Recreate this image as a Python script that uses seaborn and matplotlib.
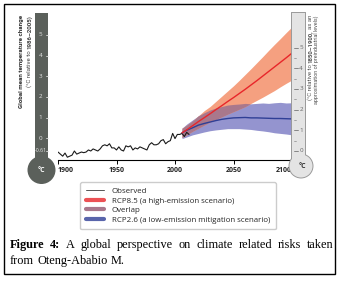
import matplotlib
matplotlib.use('Agg')
import matplotlib.pyplot as plt
import numpy as np
import seaborn as sns
from matplotlib.lines import Line2D
from matplotlib.patches import Rectangle, Circle
from matplotlib.transforms import blended_transform_factory

# observed global mean temperature, degC relative to 1850-1900 (right-hand scale)
obs_years = [1900, 1902, 1904, 1906, 1908, 1910, 1912, 1914, 1916, 1918,
             1920, 1922, 1924, 1926, 1928, 1930, 1932, 1934, 1936, 1938,
             1940, 1942, 1944, 1946, 1948, 1950, 1952, 1954, 1956, 1958,
             1960, 1962, 1964, 1966, 1968, 1970, 1972, 1974, 1976, 1978,
             1980, 1982, 1984, 1986, 1988, 1990, 1992, 1994, 1996, 1998,
             2000, 2002, 2004, 2006, 2008, 2010, 2012]
obs_temp = [-0.05, -0.15, -0.25, -0.10, -0.30, -0.25, -0.20, 0.00, -0.15, -0.10,
            -0.05, -0.08, -0.05, 0.05, 0.00, 0.10, 0.05, 0.00, 0.10, 0.25,
            0.30, 0.25, 0.35, 0.15, 0.15, 0.05, 0.20, 0.05, 0.00, 0.25,
            0.20, 0.25, 0.05, 0.15, 0.10, 0.20, 0.15, 0.10, 0.05, 0.30,
            0.40, 0.30, 0.30, 0.35, 0.50, 0.55, 0.35, 0.45, 0.50, 0.85,
            0.60, 0.80, 0.80, 0.85, 0.70, 0.90, 0.80]

# projections
proj_years = [2006, 2010, 2015, 2020, 2025, 2030, 2035, 2040, 2045, 2050,
              2055, 2060, 2065, 2070, 2075, 2080, 2085, 2090, 2095, 2100]
rcp85_mean = [0.88, 1.02, 1.22, 1.42, 1.61, 1.80, 2.00, 2.19, 2.39, 2.58,
              2.78, 2.98, 3.19, 3.40, 3.62, 3.84, 4.06, 4.28, 4.50, 4.73]
rcp85_high = [1.10, 1.25, 1.45, 1.70, 1.95, 2.15, 2.40, 2.65, 2.90, 3.15,
              3.42, 3.70, 3.98, 4.27, 4.56, 4.86, 5.15, 5.43, 5.72, 6.00]
rcp85_low = [0.65, 0.78, 0.95, 1.10, 1.25, 1.40, 1.52, 1.65, 1.78, 1.90,
             2.02, 2.14, 2.30, 2.45, 2.60, 2.76, 2.92, 3.10, 3.27, 3.43]
rcp26_mean = [0.88, 1.00, 1.12, 1.25, 1.33, 1.40, 1.47, 1.53, 1.57, 1.60,
              1.61, 1.62, 1.60, 1.60, 1.59, 1.58, 1.57, 1.57, 1.56, 1.55]
rcp26_high = [1.10, 1.30, 1.50, 1.70, 1.85, 1.98, 2.08, 2.15, 2.22, 2.25,
              2.27, 2.30, 2.28, 2.30, 2.32, 2.30, 2.33, 2.35, 2.32, 2.33]
rcp26_low = [0.60, 0.68, 0.78, 0.85, 0.92, 0.98, 1.02, 1.05, 1.08, 1.08,
             1.08, 1.06, 1.04, 1.00, 0.97, 0.93, 0.88, 0.85, 0.82, 0.78]

x_ticks = [1900, 1950, 2000, 2050, 2100]
left_ticks = [-0.61, 0, 1, 2, 3, 4, 5]     # relative to 1986-2005
left_labels = ['-0.61', '0', '1', '2', '3', '4', '5']
right_ticks = [0, 1, 2, 3, 4, 5]           # relative to 1850-1900
baseline_offset = 0.61

legend_labels = ['Observed',
                 'RCP8.5 (a high-emission scenario)',
                 'Overlap',
                 'RCP2.6 (a low-emission mitigation scenario)']

RED_BAND, BLUE_BAND, OVERLAP = '#f5a080', '#9494cf', '#a9788c'
RED_LINE, BLUE_LINE = '#e8262a', '#2f3f96'
SERIF = ['Liberation Serif', 'DejaVu Serif']

sns.set_style('white')
plt.rcParams['font.family'] = ['Open Sans', 'DejaVu Sans']

fig = plt.figure(figsize=(3.42, 2.81), dpi=100)

# pixel-space overlay for the thermometers, legend frame and caption
deco = fig.add_axes([0, 0, 1, 1], zorder=3)
deco.set_xlim(0, 342)
deco.set_ylim(281, 0)
deco.axis('off')
deco.patch.set_visible(False)

# data axes
px_per_deg, zero_px = 20.7, 151
ax = fig.add_axes([58 / 342, 1 - 160 / 281, 234 / 342, 147 / 281], zorder=2)
ax.patch.set_visible(False)
ax.fill_between(proj_years, rcp26_low, rcp26_high, color=BLUE_BAND, lw=0)
ax.fill_between(proj_years, rcp85_low, rcp85_high, color=RED_BAND, lw=0)
ov_lo = np.maximum(rcp85_low, rcp26_low)
ov_hi = np.minimum(rcp85_high, rcp26_high)
ax.fill_between(proj_years, ov_lo, ov_hi, where=ov_hi > ov_lo,
                interpolate=True, color=OVERLAP, lw=0)
sns.lineplot(x=obs_years, y=obs_temp, color='#1a1a1a', lw=0.8, ax=ax)
sns.lineplot(x=proj_years, y=rcp26_mean, color=BLUE_LINE, lw=1.0, ax=ax)
sns.lineplot(x=proj_years, y=rcp85_mean, color=RED_LINE, lw=1.0, ax=ax)

ax.set_xlim(1900, 2100)
ax.set_ylim(-(160 - zero_px) / px_per_deg, (zero_px - 13) / px_per_deg)
sns.despine(ax=ax, left=True)
ax.spines['bottom'].set_color('black')
ax.spines['bottom'].set_linewidth(0.8)
ax.set_yticks([])
ax.set_xticks(x_ticks)
ax.set_xticklabels([str(t) for t in x_ticks], fontsize=5, fontweight='bold', color='#222')
ax.tick_params(axis='x', direction='out', length=3, width=0.7, pad=2, color='black', bottom=True)
tl = ax.get_xticklabels()
tl[0].set_ha('left')
tl[-1].set_ha('right')
ax.set_xlabel('')
ax.set_ylabel('')

tr = blended_transform_factory(deco.transData, ax.transData)

# left thermometer (dark)
dark = '#5b605b'
deco.add_patch(Rectangle((35, 13), 13, 152, color=dark, lw=0))
deco.add_patch(Circle((41.5, 170), 14, color=dark, lw=0))
deco.text(41.5, 170, '°C', color='white', fontsize=5, fontweight='bold', ha='center', va='center')
for val, lab in zip(left_ticks, left_labels):
    v = val + baseline_offset
    deco.plot([45.5, 48], [v, v], transform=tr, color='#dddddd', lw=0.6)
    deco.text(40.5, v, lab, transform=tr, color='#e6e6e6', fontsize=3.8 if lab == '-0.61' else 4.5,
              ha='center', va='center')

# right thermometer (light, outlined)
light, edge = '#e4e4e4', '#9a9a9a'
deco.add_patch(Rectangle((292, 13), 13, 150, fc=light, ec=edge, lw=1.4))
deco.add_patch(Circle((301, 166), 11.5, fc=light, ec=edge, lw=1.4))
deco.add_patch(Rectangle((292, 13), 13, 150, fc=light, lw=0))
deco.add_patch(Circle((301, 166), 11.5, fc=light, lw=0))
deco.text(302, 166, '°C', color='#333333', fontsize=5, fontweight='bold', ha='center', va='center')
for v in right_ticks:
    deco.plot([294, 297.5], [v, v], transform=tr, color='#777777', lw=0.6)
    deco.text(301, v, str(v), transform=tr, color='#666666', fontsize=4.5, ha='center', va='center')
    if v < 5:
        deco.plot([294, 296], [v + 0.5, v + 0.5], transform=tr, color='#888888', lw=0.5)


def vertical_runs(x, top, length, runs, color):
    # rotated text read bottom-to-top, sized so the whole run spans `length` pixels
    size = 6.0
    texts = [deco.text(x, 0, s, rotation=90, rotation_mode='anchor', ha='left', va='center',
                       fontsize=size, fontweight=wt, family=['Roboto', 'DejaVu Sans'], color=color)
             for s, wt in runs]
    r = fig.canvas.get_renderer()
    lengths = [t.get_window_extent(r).height for t in texts]
    gap = size * 0.3
    scale = length / (sum(lengths) + gap * (len(texts) - 1))
    for t in texts:
        t.set_fontsize(size * scale)
    lengths = [t.get_window_extent(r).height for t in texts]
    gap *= scale
    y = top + sum(lengths) + gap * (len(texts) - 1)
    for t, h in zip(texts, lengths):
        t.set_y(y)
        y -= h + gap


fig.canvas.draw()
vertical_runs(21.5, 15, 92, [('Global mean temperature change', 'bold')], '#333333')
vertical_runs(29.5, 15, 72, [('(°C relative to', 'normal'), ('1986–2005)', 'bold')], '#444444')
vertical_runs(310, 15, 86, [('(°C relative to', 'normal'), ('1850–1900,', 'bold'), ('as an', 'normal')],
              '#555555')
vertical_runs(317, 15, 90, [('approximation of preindustrial levels)', 'normal')], '#555555')

# legend
handles = [Line2D([], [], color='#555555', lw=0.7),
           Line2D([], [], color=RED_LINE, lw=3, alpha=0.8),
           Line2D([], [], color=OVERLAP, lw=3),
           Line2D([], [], color=BLUE_LINE, lw=3, alpha=0.8)]
fig.legend(handles, legend_labels, loc='upper left', bbox_to_anchor=(80 / 342, 1 - 182 / 281),
           fontsize=5.7, frameon=True, fancybox=True, edgecolor='#cccccc', framealpha=1,
           handlelength=2.3, handletextpad=1.0, labelspacing=0.25, borderpad=0.7, borderaxespad=0)


# caption (justified first line)
def caption_line(words, y, x0, x1, size, justify):
    texts = [deco.text(0, y, w, fontsize=size, fontweight=wt, family=SERIF, va='baseline', color='black')
             for w, wt in words]
    r = fig.canvas.get_renderer()
    widths = [t.get_window_extent(r).width for t in texts]
    gap = ((x1 - x0) - sum(widths)) / (len(words) - 1) if justify else size * 0.35
    x = x0
    for t, w in zip(texts, widths):
        t.set_x(x)
        x += w + gap


line1 = [('Figure', 'bold'), ('4:', 'bold')] + [(w, 'normal') for w in
         'A global perspective on climate related risks taken'.split()]
line2 = [(w, 'normal') for w in 'from Oteng-Ababio M.'.split()]
caption_line(line1, 248, 10, 333, 8.8, True)
caption_line(line2, 264, 10, 333, 8.8, False)

# outer frame
deco.add_patch(Rectangle((3.5, 4), 331.5, 270, fill=False, ec='black', lw=1))

fig.savefig('out.png', dpi=100)
